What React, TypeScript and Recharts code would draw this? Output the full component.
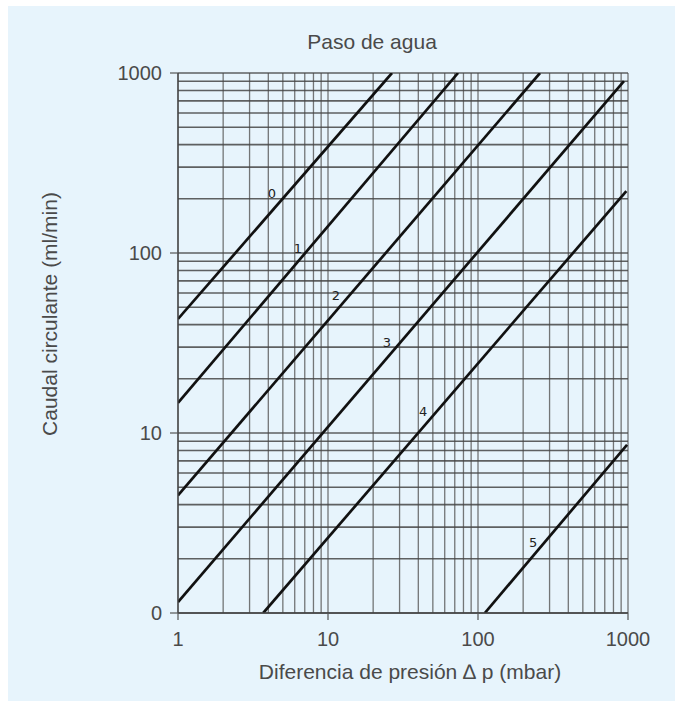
import React from 'react';
import { ComposedChart, Line, XAxis, YAxis, CartesianGrid, Scatter } from 'recharts';

// Grid tick values (log decades with minor subdivisions)
const xGridTicks = [1, 2, 3, 4, 5, 6, 7, 8, 9, 10, 20, 30, 40, 50, 60, 70, 80, 90, 100, 200, 300, 400, 500, 600, 700, 800, 900, 1000];
const yGridTicks = [1, 2, 3, 4, 5, 6, 7, 8, 9, 10, 20, 30, 40, 50, 60, 70, 80, 90, 100, 200, 300, 400, 500, 600, 700, 800, 900, 1000];

// Labelled ticks
const xTickValues = [1, 10, 100, 1000];
const xTickLabels = ['1', '10', '100', '1000'];
const yTickValues = [1, 10, 100, 1000];
const yTickLabels = ['0', '10', '100', '1000'];

// Curves: endpoints (x = mbar, y = ml/min)
const curve0 = [{ x: 1, y: 43 }, { x: 26.7, y: 1000 }];
const curve1 = [{ x: 1, y: 14.7 }, { x: 73.6, y: 1000 }];
const curve2 = [{ x: 1, y: 4.5 }, { x: 259, y: 1000 }];
const curve3 = [{ x: 1, y: 1.15 }, { x: 940, y: 900 }];
const curve4 = [{ x: 3.7, y: 1 }, { x: 975, y: 221 }];
const curve5 = [{ x: 111, y: 1 }, { x: 985, y: 8.6 }];

const curves = [curve0, curve1, curve2, curve3, curve4, curve5];

// Curve number labels
const curveLabels = [
  { x: 4.23, y: 215, name: '0' },
  { x: 6.31, y: 106, name: '1' },
  { x: 11.3, y: 58.4, name: '2' },
  { x: 24.7, y: 32, name: '3' },
  { x: 43, y: 13.1, name: '4' },
  { x: 233, y: 2.45, name: '5' },
];

const FONT = '"Liberation Sans", Arial, Helvetica, sans-serif';
const TEXT = '#4a4a4a';
const BG = '#e7f4fc';

const YTick = (props: any) => {
  const { x, y, payload } = props;
  const i = yTickValues.indexOf(payload.value);
  if (i < 0) return <g />;
  return (
    <g>
      <line x1={x + 8} x2={x + 16} y1={y} y2={y} stroke="#555" strokeWidth={1.2} />
      <text x={x} y={y} textAnchor="end" dominantBaseline="central" fill={TEXT} fontSize={20} fontFamily={FONT}>
        {yTickLabels[i]}
      </text>
    </g>
  );
};

const XTick = (props: any) => {
  const { x, y, payload } = props;
  const i = xTickValues.indexOf(payload.value);
  if (i < 0) return <g />;
  return (
    <g>
      <line x1={x} x2={x} y1={y - 19} y2={y - 12} stroke="#555" strokeWidth={1.2} />
      <text x={x} y={y} dy="0.71em" textAnchor="middle" fill={TEXT} fontSize={20} fontFamily={FONT}>
        {xTickLabels[i]}
      </text>
    </g>
  );
};

const LabelShape = (props: any) => {
  const { cx, cy, payload } = props;
  return (
    <text x={cx} y={cy} textAnchor="middle" dominantBaseline="central" fill="#222" fontSize={13} fontFamily='"DejaVu Sans", sans-serif'>
      {payload.name}
    </text>
  );
};

export default function App() {
  return (
    <div style={{ position: 'absolute', left: 8, top: 6, width: 667, height: 695, background: BG, overflow: 'hidden' }}>
      <ComposedChart
        width={667}
        height={695}
        margin={{ top: 67, right: 47, bottom: 48, left: 110 }}
      >
        <CartesianGrid horizontal={false} stroke="#5e5e5e" strokeWidth={1.3} strokeOpacity={0.85} />
        <CartesianGrid vertical={false} stroke="#454545" strokeWidth={1.6} strokeOpacity={0.85} />
        <XAxis
          dataKey="x"
          type="number"
          scale="log"
          domain={[1, 1000]}
          ticks={xGridTicks}
          interval={0}
          allowDataOverflow
          height={40}
          tickSize={6}
          tickMargin={13}
          tickLine={false}
          tick={<XTick />}
          axisLine={{ stroke: '#444', strokeWidth: 1.3 }}
        />
        <YAxis
          dataKey="y"
          type="number"
          scale="log"
          domain={[1, 1000]}
          ticks={yGridTicks}
          interval={0}
          allowDataOverflow
          width={60}
          tickSize={8}
          tickMargin={8}
          tickLine={false}
          tick={<YTick />}
          axisLine={{ stroke: '#444', strokeWidth: 1.3 }}
        />
        {curves.map((c, i) => (
          <Line
            key={i}
            data={c}
            dataKey="y"
            type="linear"
            stroke="#111"
            strokeWidth={2.7}
            dot={false}
            activeDot={false}
            isAnimationActive={false}
          />
        ))}
        <Scatter data={curveLabels} dataKey="y" shape={<LabelShape />} isAnimationActive={false} />
      </ComposedChart>
      <div style={{ position: 'absolute', left: 364, top: 36, transform: 'translate(-50%, -50%)', fontFamily: FONT, fontSize: 21, color: TEXT, whiteSpace: 'nowrap' }}>
        Paso de agua
      </div>
      <div style={{ position: 'absolute', left: 402, top: 666, transform: 'translate(-50%, -50%)', fontFamily: FONT, fontSize: 21, color: TEXT, whiteSpace: 'nowrap' }}>
        Diferencia de presión ∆ p (mbar)
      </div>
      <div style={{ position: 'absolute', left: 42, top: 308, transform: 'translate(-50%, -50%) rotate(-90deg)', fontFamily: FONT, fontSize: 21, color: TEXT, whiteSpace: 'nowrap' }}>
        Caudal circulante (ml/min)
      </div>
    </div>
  );
}
